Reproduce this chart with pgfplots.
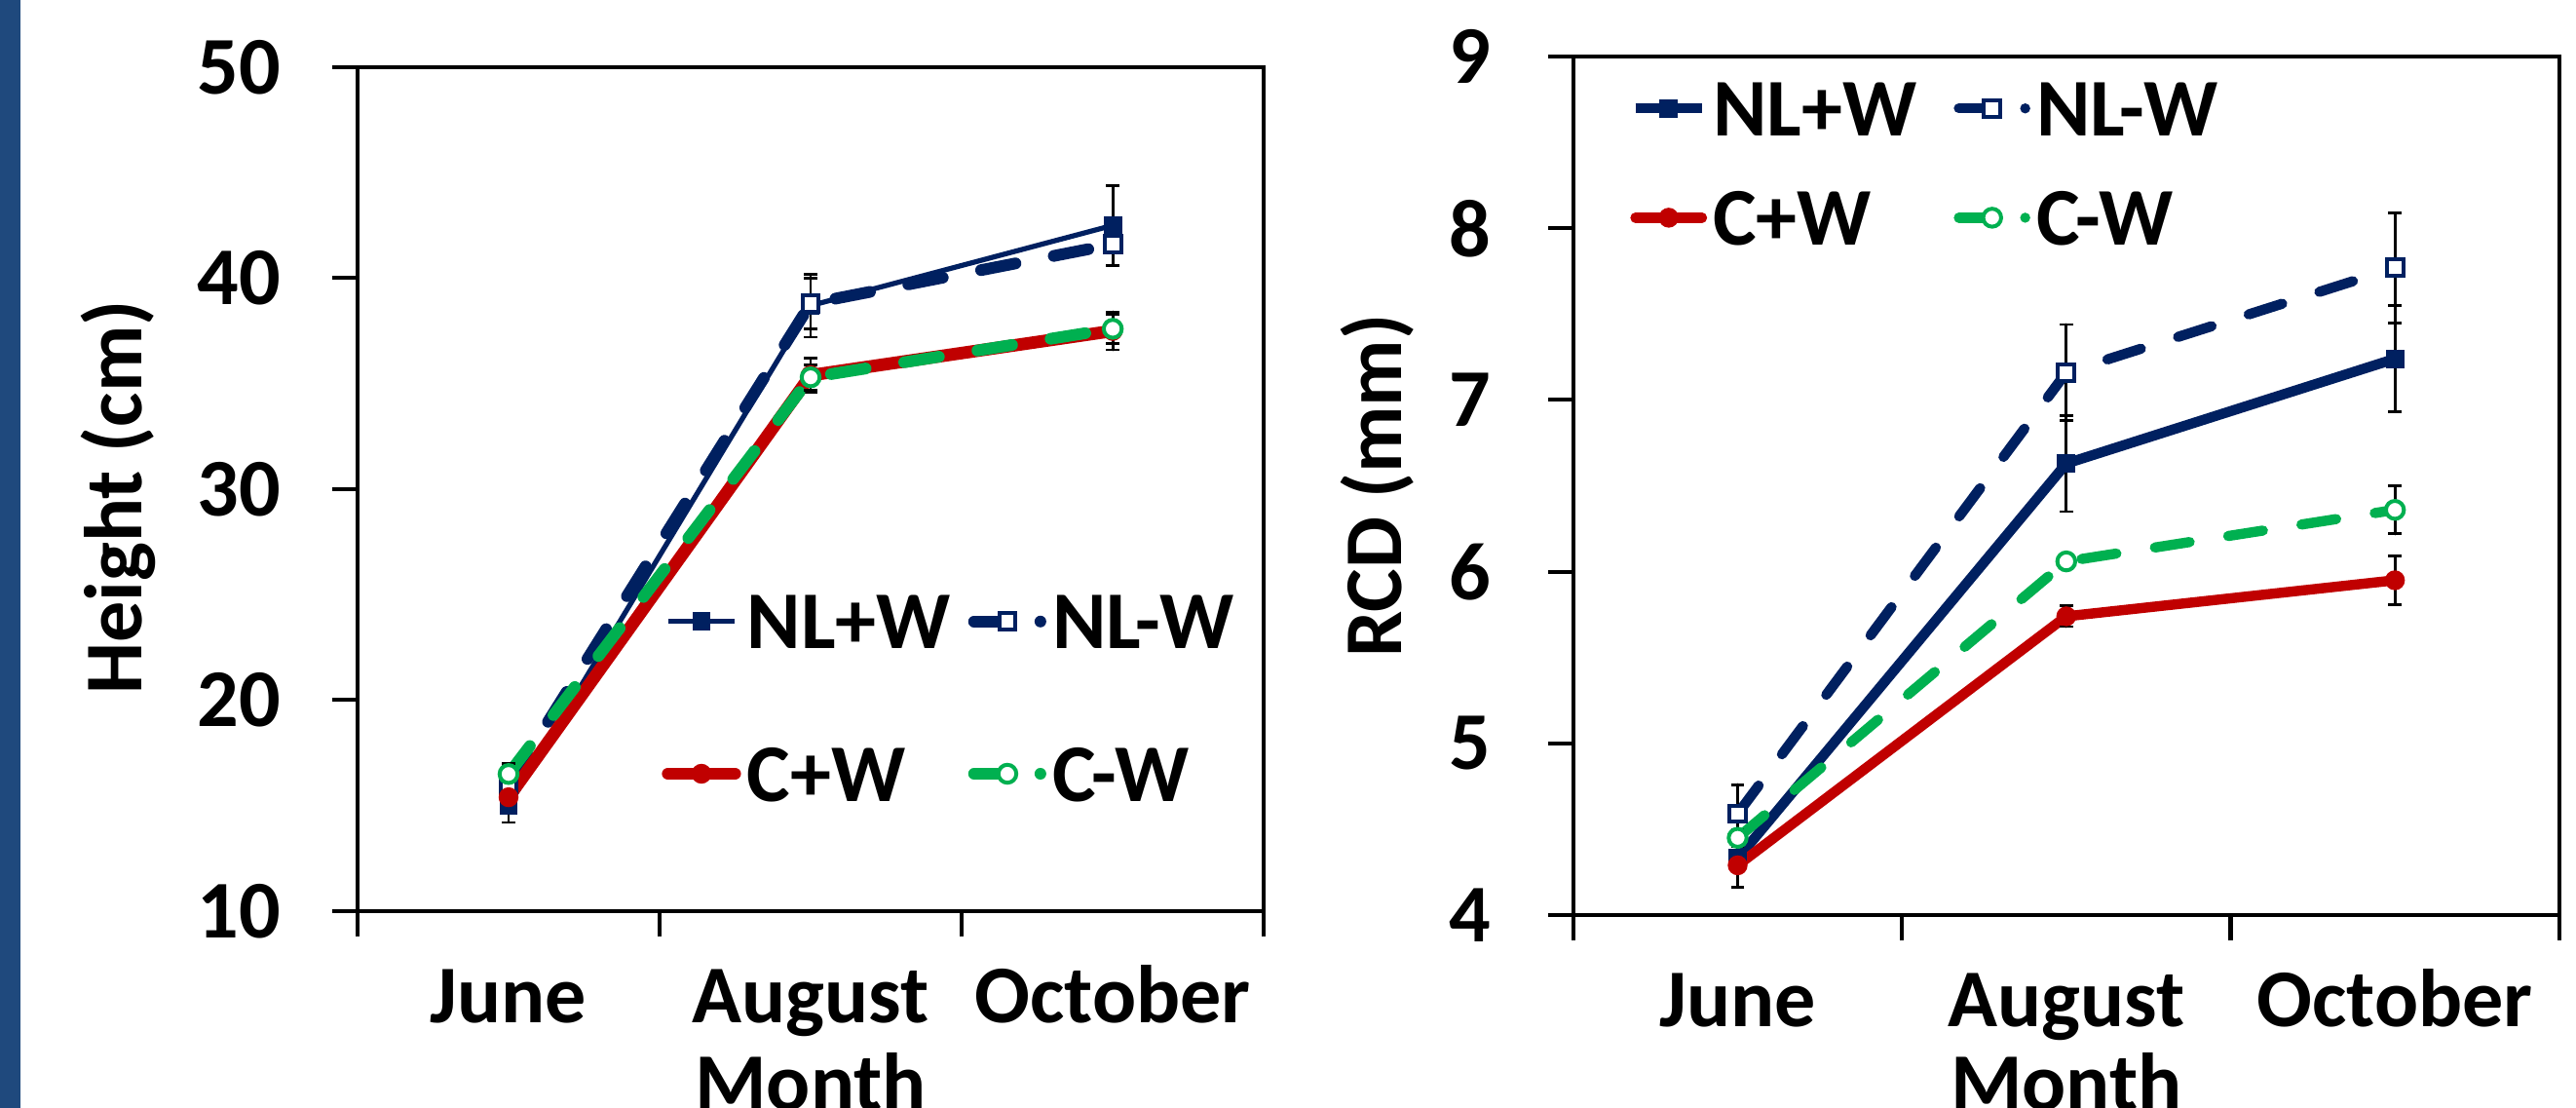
\documentclass[border=0pt]{standalone}
\usepackage{fontspec}
\setmainfont{Carlito}
\usepackage{pgfplots}
\pgfplotsset{compat=1.18}
\definecolor{navy}{RGB}{0,32,96}
\definecolor{cred}{RGB}{192,0,0}
\definecolor{cgreen}{RGB}{0,176,80}
\definecolor{barblue}{RGB}{31,73,125}
\newcommand{\bigfont}{\fontsize{21}{24}\selectfont\bfseries}
\pgfplotsset{
  panel/.style={
    scale only axis,
    xmin=0, xmax=3,
    xtick={0,1,2,3},
    xticklabels={June,August,October},
    x tick label as interval,
    xtick pos=lower, ytick pos=left,
    tick align=outside,
    major tick length=6.5pt,
    axis line style={line width=1pt},
    every tick/.style={black, line width=1pt},
    tick label style={font=\bigfont},
    label style={font=\bigfont},
    /pgf/number format/assume math mode=true,
    xlabel={Month},
    ylabel style={anchor=center},
    xlabel style={anchor=north, inner sep=0pt},
    xticklabel style={anchor=base, inner sep=0pt},
    yticklabel style={anchor=east, inner sep=0pt},
    legend columns=2,
    legend cell align=left,
    clip=false,
    error bars/y dir=both, error bars/y explicit,
    error bars/error bar style={black, line width=0.7pt, solid},
    error bars/error mark options={black, line width=0.7pt, mark size=1.7pt, solid, rotate=90},
  },
  nlp/.style={navy, mark=square*, mark size=2.1pt, mark options={solid, line width=0.5pt, fill=navy}},
  nlm/.style={navy, dash pattern=on 9pt off 10pt, line cap=round, mark=square*, mark size=2.1pt, mark options={solid, line width=1pt, fill=white},
    legend image post style={dash pattern=on 8.5pt off 8.5pt on 0pt off 20pt}},
  cp/.style={cred, line cap=round, mark=*, mark size=2.3pt, mark options={solid, line width=0.5pt, fill=cred}},
  cm/.style={cgreen, dash pattern=on 9pt off 10pt, line cap=round, mark=*, mark size=2.3pt, mark options={solid, line width=1pt, fill=white},
    legend image post style={dash pattern=on 8.5pt off 8.5pt on 0pt off 20pt}},
}
\begin{document}
\begin{tikzpicture}
\useasboundingbox (0,0) rectangle (660pt,283.8pt);
\fill[barblue] (0,0) rectangle (5.2pt,283.8pt);

% ---------- Left panel: Height ----------
\begin{axis}[panel,
  at={(91.6pt,50.4pt)}, anchor=south west,
  width=232.2pt, height=216.2pt,
  ymin=10, ymax=50, ytick={10,20,30,40,50},
  ylabel={Height (cm)},
  ylabel style={at={(axis description cs:-0.264,0.49)}},
  xlabel style={at={(axis description cs:0.5,0)}, yshift=-36pt},
  xticklabel style={yshift=-22pt},
  yticklabel style={xshift=-13pt},
  legend style={draw=none, fill=none, at={(0.335,0.253)}, anchor=west,
    inner sep=0pt, font=\bigfont,
    nodes={text height=14pt, text depth=0pt, inner ysep=0pt, inner xsep=1.5pt},
    row sep=25pt,
    /tikz/every even column/.append style={column sep=3pt}},
]
\addplot[nlp, line width=1.3pt] coordinates {(0.5,15.0) +- (0,0.8) (1.5,38.7) +- (0,1.5) (2.5,42.5) +- (0,1.9)};
\addlegendentry{NL+W}
\addplot[nlm, line width=3pt] coordinates {(0.5,16.0) +- (0,0.9) (1.5,38.8) +- (0,1.2) (2.5,41.6) +- (0,1.0)};
\addlegendentry{NL-W}
\addplot[cp, line width=3.2pt] coordinates {(0.5,15.4) +- (0,0.7) (1.5,35.4) +- (0,0.8) (2.5,37.5) +- (0,0.9)};
\addlegendentry{C+W}
\addplot[cm, line width=3pt] coordinates {(0.5,16.5) +- (0,0.5) (1.5,35.3) +- (0,0.6) (2.5,37.6) +- (0,0.7)};
\addlegendentry{C-W}
\end{axis}

% ---------- Right panel: RCD ----------
\begin{axis}[panel,
  at={(403.1pt,49.4pt)}, anchor=south west,
  width=252.6pt, height=219.9pt,
  ymin=4, ymax=9, ytick={4,5,6,7,8,9},
  ylabel={RCD (mm)},
  ylabel style={at={(axis description cs:-0.199,0.5)}},
  xlabel style={at={(axis description cs:0.5,0)}, yshift=-35pt},
  xticklabel style={yshift=-22pt},
  yticklabel style={xshift=-14.5pt},
  legend style={draw=none, fill=none, at={(0.057,0.876)}, anchor=west,
    inner sep=0pt, font=\bigfont,
    nodes={text height=14pt, text depth=0pt, inner ysep=0pt, inner xsep=1.5pt},
    row sep=14pt,
    /tikz/every even column/.append style={column sep=8pt}},
]
\addplot[nlp, line width=2.6pt] coordinates {(0.5,4.33) +- (0,0.08) (1.5,6.63) +- (0,0.28) (2.5,7.24) +- (0,0.31)};
\addlegendentry{NL+W}
\addplot[nlm, line width=2.6pt] coordinates {(0.5,4.59) +- (0,0.17) (1.5,7.16) +- (0,0.28) (2.5,7.77) +- (0,0.32)};
\addlegendentry{NL-W}
\addplot[cp, line width=2.6pt] coordinates {(0.5,4.29) +- (0,0.13) (1.5,5.74) +- (0,0.06) (2.5,5.95) +- (0,0.14)};
\addlegendentry{C+W}
\addplot[cm, line width=2.6pt] coordinates {(0.5,4.45) +- (0,0.05) (1.5,6.06) +- (0,0.04) (2.5,6.36) +- (0,0.14)};
\addlegendentry{C-W}
\end{axis}
\end{tikzpicture}
\end{document}
